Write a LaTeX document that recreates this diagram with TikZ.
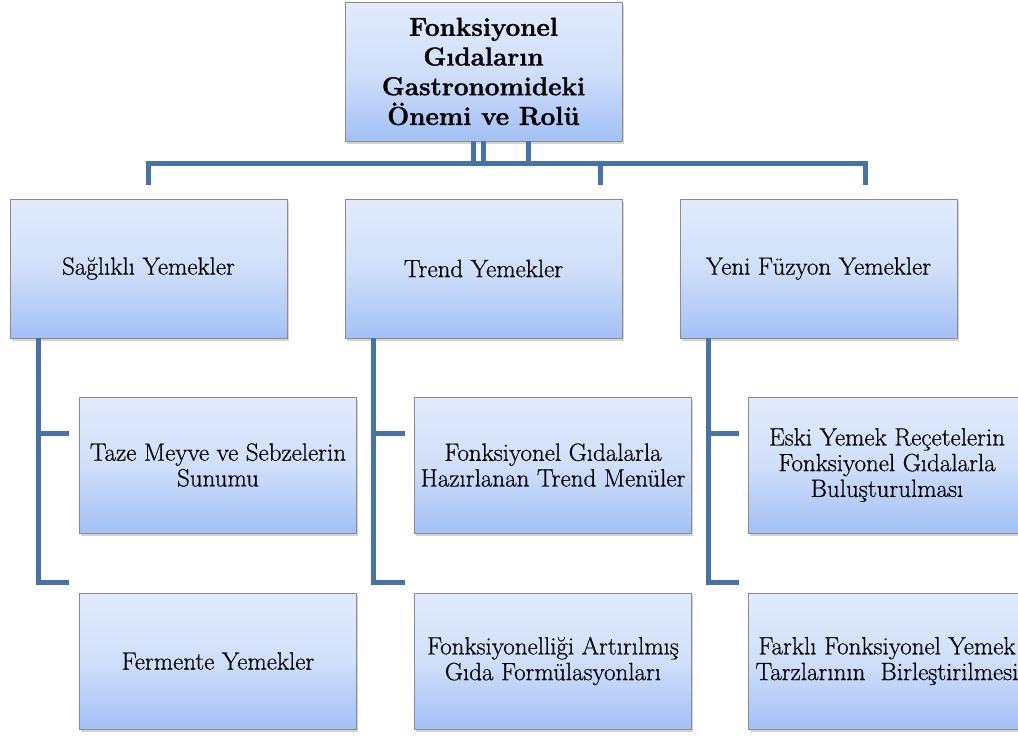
\documentclass[tikz,border=0pt]{standalone}
\usepackage{fontspec}
\setmainfont{Latin Modern Roman}[UprightFeatures={FakeBold=0.5}, BoldFeatures={FakeBold=1.2}]
\usetikzlibrary{shadows}
\definecolor{conncol}{RGB}{70,114,168}
\definecolor{boxtop}{RGB}{225,235,252}
\definecolor{boxmid}{RGB}{208,223,250}
\definecolor{boxbot}{RGB}{163,192,245}
\definecolor{boxline}{RGB}{140,140,140}
\begin{document}
\begin{tikzpicture}[x=1pt,y=-1pt,
  box/.style={draw=boxline, line width=0.8pt, top color=boxtop, bottom color=boxbot, middle color=boxmid,
    drop shadow={opacity=0.35, shadow xshift=1.5pt, shadow yshift=-3pt},
    inner sep=0pt, align=center, minimum width=277pt, text=black},
  lvl/.style={box, minimum height=139pt, font=\fontsize{25}{25.7}\selectfont},
  leaf/.style={box, minimum height=136pt, font=\fontsize{25}{25.7}\selectfont},
  topbox/.style={box, minimum height=139pt, font=\fontsize{26}{29.7}\selectfont\bfseries},
  conn/.style={draw=conncol, line width=5pt}]
\useasboundingbox (0,0) rectangle (1018,736);

% nodes
\node[topbox] (top) at (483.5,71.5) {Fonksiyonel\\Gıdaların\\Gastronomideki\\Önemi ve Rolü};
\node[lvl] (sag) at (148.5,268.5) {Sağlıklı Yemekler};
\node[lvl] (trend) at (483.5,268.5) {Trend Yemekler};
\node[lvl] (yeni) at (818.5,268.5) {Yeni Füzyon Yemekler};
\node[leaf] (taze) at (218,465) {Taze Meyve ve Sebzelerin\\Sunumu};
\node[leaf] (ferm) at (218,661) {Fermente Yemekler};
\node[leaf] (menu) at (553,465) {Fonksiyonel Gıdalarla\\Hazırlanan Trend Menüler};
\node[leaf] (form) at (553,661) {Fonksiyonelliği Artırılmış\\Gıda Formülasyonları};
\node[leaf] (eski) at (887,465) {Eski Yemek Reçetelerin\\Fonksiyonel Gıdalarla\\Buluşturulması};
\node[leaf] (fark) at (887,661) {Farklı Fonksiyonel Yemek\\Tarzlarının\ \ Birleştirilmesi};

% top connectors
\coordinate (j1) at (473,163);
\coordinate (j2) at (483,163);
\coordinate (j3) at (528,163);
\coordinate (barL) at (148,163);
\coordinate (barR) at (865,163);
\coordinate (barM) at (600,163);
\coordinate (dL) at (148,185);
\coordinate (dM) at (600,185);
\coordinate (dR) at (865,185);
\draw[conn] (j1 |- top.south) -- (j1);
\draw[conn] (j2 |- top.south) -- (j2);
\draw[conn] (j3 |- top.south) -- (j3);
\draw[conn] ([xshift=-2.5pt]barL) -- ([xshift=2.5pt]barR);
\draw[conn] (barL) -- (dL);
\draw[conn] (barM) -- (dM);
\draw[conn] (barR) -- (dR);

% brackets
\coordinate (sA) at (38,433);
\coordinate (sB) at (69,433);
\coordinate (sC) at (38,582);
\coordinate (sD) at (69,582);
\draw[conn] (sA |- sag.south) -- (sC) -- (sD);
\draw[conn] (sA) -- (sB);

\coordinate (tA) at (373,433);
\coordinate (tB) at (405,433);
\coordinate (tC) at (373,582);
\coordinate (tD) at (405,582);
\draw[conn] (tA |- trend.south) -- (tC) -- (tD);
\draw[conn] (tA) -- (tB);

\coordinate (yA) at (708,433);
\coordinate (yB) at (739,433);
\coordinate (yC) at (708,582);
\coordinate (yD) at (739,582);
\draw[conn] (yA |- yeni.south) -- (yC) -- (yD);
\draw[conn] (yA) -- (yB);
\end{tikzpicture}
\end{document}
